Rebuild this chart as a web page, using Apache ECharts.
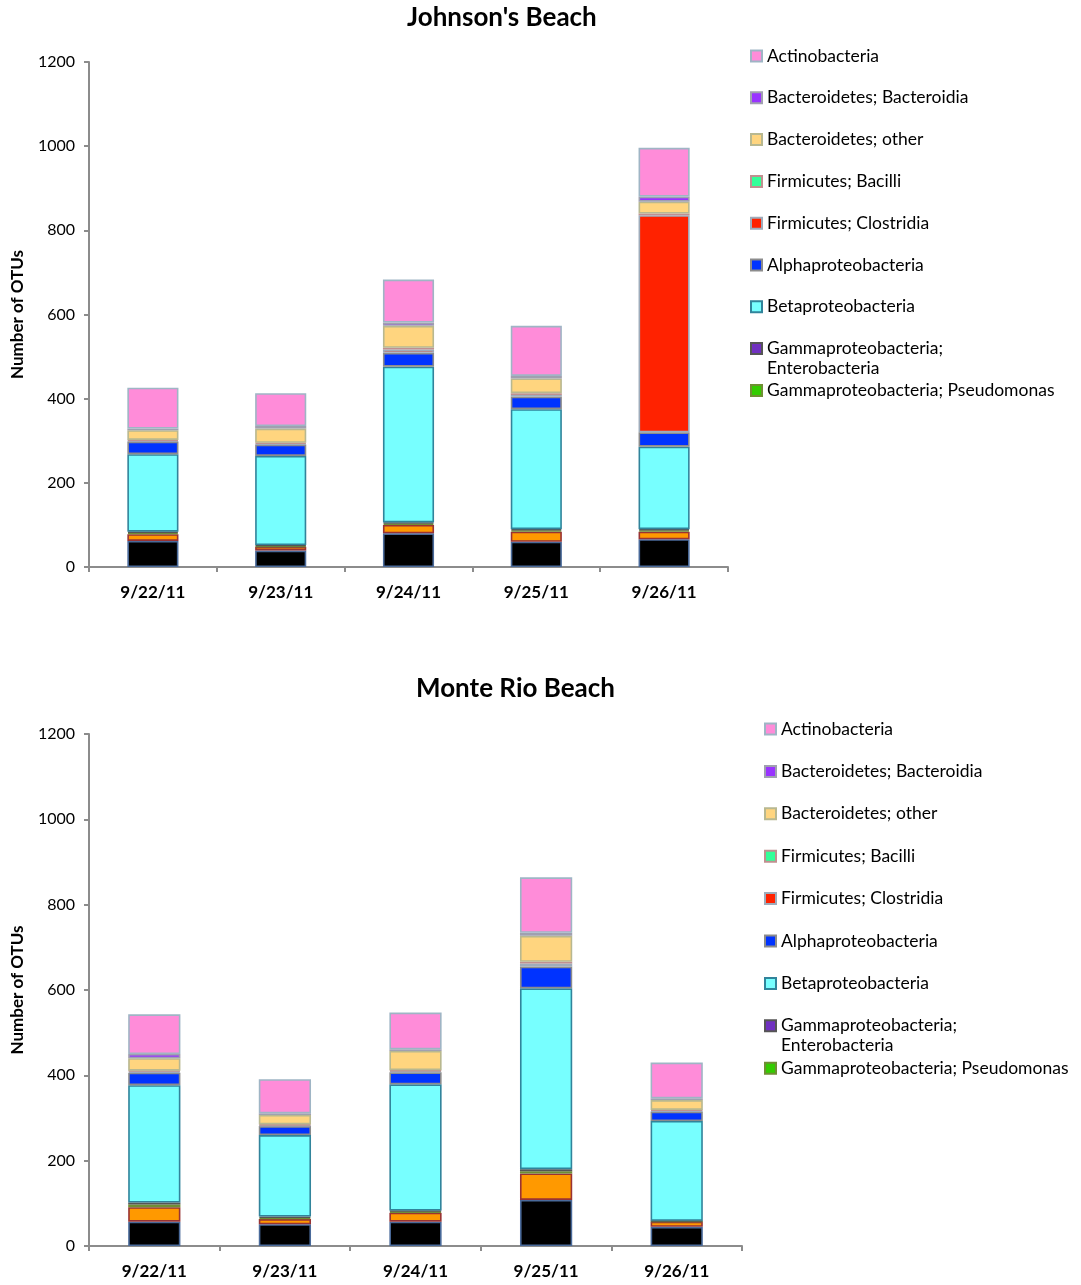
<!DOCTYPE html>
<html>
<head>
<meta charset="utf-8">
<script src="https://cdn.jsdelivr.net/npm/echarts@6/dist/echarts.min.js"></script>
<style>
  html, body { margin: 0; padding: 0; background: #fff; }
  #chart { width: 1081px; height: 1285px; }
</style>
</head>
<body>
<div id="chart"></div>
<script>
const dates = ['9/22/11', '9/23/11', '9/24/11', '9/25/11', '9/26/11'];

// stack order, bottom to top
const taxa = [
  'Other', 'Unclassified',
  'Gammaproteobacteria; Pseudomonas', 'Gammaproteobacteria; Enterobacteria',
  'Betaproteobacteria', 'Alphaproteobacteria',
  'Firmicutes; Clostridia', 'Firmicutes; Bacilli',
  'Bacteroidetes; other', 'Bacteroidetes; Bacteroidia', 'Actinobacteria'
];
const fills   = ['#000000', '#ff9900', '#33cc00', '#7030c0', '#77ffff', '#0033ff', '#ff2200', '#33ff99', '#ffd57f', '#9933ff', '#ff8cd9'];
const borders = ['#4a6a9a', '#993333', '#6f8f33', '#555555', '#31849b', '#8c8c8c', '#9eacbb', '#c09090', '#b8b890', '#a0a0b0', '#9fb5c5'];

// Johnson's Beach
const jbOther        = [62, 39, 80, 60, 66];
const jbUnclassified = [16, 9, 20, 24, 18];
const jbPseudomonas  = [3, 2, 3, 3, 3];
const jbEntero       = [3, 2, 3, 3, 3];
const jbBeta         = [184, 212, 370, 285, 196];
const jbAlpha        = [30, 27, 33, 30, 34];
const jbClostridia   = [2, 2, 8, 4, 516];
const jbBacilli      = [2, 2, 4, 4, 4];
const jbBactOther    = [23, 34, 52, 35, 28];
const jbBacteroidia  = [4, 6, 8, 6, 12];
const jbActino       = [97, 78, 102, 119, 116];

// Monte Rio Beach
const mrOther        = [57, 51, 57, 108, 45];
const mrUnclassified = [34, 12, 21, 62, 12];
const mrPseudomonas  = [6, 3, 3, 5, 1];
const mrEntero       = [5, 3, 2, 5, 1];
const mrBeta         = [275, 191, 296, 424, 234];
const mrAlpha        = [29, 21, 28, 51, 22];
const mrClostridia   = [3, 2, 3, 7, 2];
const mrBacilli      = [2, 2, 2, 4, 2];
const mrBactOther    = [29, 22, 45, 61, 23];
const mrBacteroidia  = [10, 4, 4, 7, 4];
const mrActino       = [93, 80, 86, 130, 84];

const jbData = [jbOther, jbUnclassified, jbPseudomonas, jbEntero, jbBeta, jbAlpha, jbClostridia, jbBacilli, jbBactOther, jbBacteroidia, jbActino];
const mrData = [mrOther, mrUnclassified, mrPseudomonas, mrEntero, mrBeta, mrAlpha, mrClostridia, mrBacilli, mrBactOther, mrBacteroidia, mrActino];

const FONT = 'Lato';
const myChart = echarts.init(document.getElementById('chart'));

function xAxisFor(i) {
  return {
    type: 'category', gridIndex: i, data: dates,
    axisLine: { lineStyle: { color: '#8c8c8c', width: 2 } },
    axisTick: { show: true, length: 5, lineStyle: { color: '#8c8c8c', width: 2 } },
    axisLabel: { color: '#000', fontFamily: FONT, fontWeight: 'bold', fontSize: 17, margin: 17 }
  };
}
function yAxisFor(i) {
  return {
    type: 'value', gridIndex: i, min: 0, max: 1200, interval: 200,
    name: 'Number of OTUs', nameLocation: 'middle', nameGap: 63,
    nameTextStyle: { color: '#000', fontFamily: FONT, fontWeight: 'bold', fontSize: 17 },
    axisLine: { show: true, lineStyle: { color: '#8c8c8c', width: 2 } },
    axisTick: { show: true, length: 5, lineStyle: { color: '#8c8c8c', width: 2 } },
    splitLine: { show: false },
    axisLabel: { color: '#000', fontFamily: FONT, fontSize: 16, margin: 14, formatter: function (v) { return String(v); } }
  };
}

const series = [];
[jbData, mrData].forEach(function (beach, g) {
  beach.forEach(function (vals, k) {
    series.push({
      name: taxa[k], type: 'bar', stack: 'beach' + g,
      xAxisIndex: g, yAxisIndex: g, barWidth: '40%',
      itemStyle: { color: fills[k], borderColor: borders[k], borderWidth: 1.6 },
      emphasis: { disabled: true },
      data: vals
    });
  });
});

const legendNames = taxa.slice(2).reverse(); // Actinobacteria ... Pseudomonas
function legendFor(left, top, gap) {
  const base = {
    orient: 'vertical', left: left, icon: 'rect', itemWidth: 11, itemHeight: 11,
    itemGap: gap, padding: 0, selectedMode: false,
    textStyle: { color: '#000', fontFamily: FONT, fontSize: 17.5, lineHeight: 20 },
    formatter: function (n) {
      // leading blank line keeps the first line level with the icon
      return n === 'Gammaproteobacteria; Enterobacteria' ? '\nGammaproteobacteria;\nEnterobacteria' : n;
    }
  };
  return [
    Object.assign({}, base, { top: top, data: legendNames.slice(0, 7) }),
    Object.assign({}, base, { top: top + 7 * (20 + gap) - 20, data: [legendNames[7]] }),
    Object.assign({}, base, { top: top + 8 * (20 + gap), data: [legendNames[8]] })
  ];
}

const option = {
  animation: false,
  textStyle: { fontFamily: FONT },
  graphic: [
    { type: 'text', left: 407, top: 5, style: { text: "Johnson's Beach", font: 'bold 26px ' + FONT, fill: '#000' } },
    { type: 'text', left: 416, top: 676, style: { text: 'Monte Rio Beach', font: 'bold 26px ' + FONT, fill: '#000' } }
  ],
  grid: [
    { left: 89, top: 62, width: 639, height: 505, outerBoundsMode: 'none' },
    { left: 89, top: 734, width: 653, height: 512, outerBoundsMode: 'none' }
  ],
  xAxis: [xAxisFor(0), xAxisFor(1)],
  yAxis: [yAxisFor(0), yAxisFor(1)],
  legend: legendFor(750, 46, 21.8).concat(legendFor(764, 719, 22.4)),
  series: series
};
option && myChart.setOption(option);
</script>
</body>
</html>
